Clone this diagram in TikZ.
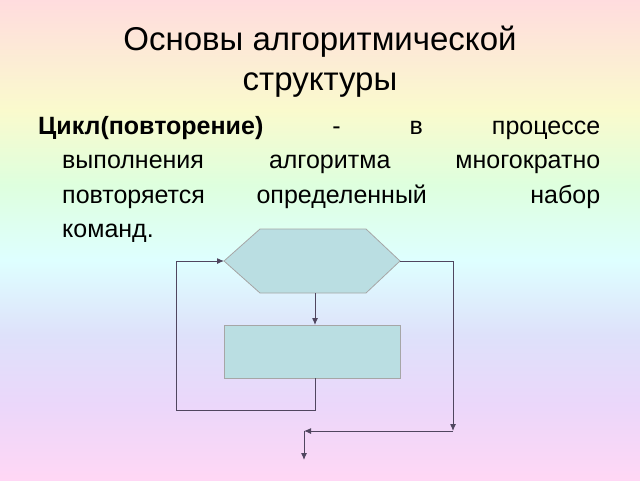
\documentclass[tikz,border=0pt]{standalone}
\usepackage{fontspec}
\setmainfont{Liberation Sans}
\usetikzlibrary{arrows.meta}
\definecolor{boxfill}{RGB}{186,222,226}
\definecolor{linec}{RGB}{80,70,95}
\begin{document}
\begin{tikzpicture}[x=1pt,y=-1pt,
  shapebox/.style={draw=gray!70, fill=boxfill, line width=0.8pt},
  conn/.style={draw=linec, line width=1pt},
  arr/.style={conn,-{Latex[length=7pt,width=6pt]}}]
\useasboundingbox (0,0) rectangle (640,480);
\shade[top color={rgb,255:red,255;green,220;blue,222}, bottom color={rgb,255:red,250;green,250;blue,205}] (0,0) rectangle (640,110);
\shade[top color={rgb,255:red,250;green,250;blue,205}, bottom color={rgb,255:red,222;green,255;blue,222}] (0,110) rectangle (640,185);
\shade[top color={rgb,255:red,222;green,255;blue,222}, bottom color={rgb,255:red,222;green,255;blue,255}] (0,185) rectangle (640,260);
\shade[top color={rgb,255:red,222;green,255;blue,255}, bottom color={rgb,255:red,222;green,225;blue,250}] (0,260) rectangle (640,335);
\shade[top color={rgb,255:red,222;green,225;blue,250}, bottom color={rgb,255:red,235;green,215;blue,250}] (0,335) rectangle (640,405);
\shade[top color={rgb,255:red,235;green,215;blue,250}, bottom color={rgb,255:red,255;green,215;blue,245}] (0,405) rectangle (640,480);

\node[align=center, font=\fontsize{33}{40}\selectfont] (title) at (320,62) {Основы алгоритмической\\структуры};
\node[anchor=north west, inner sep=0pt] (body) at (38,116) {\parbox{562pt}{\fontsize{25}{34.5}\selectfont\hangindent=24pt\hangafter=1 \textbf{Цикл(повторение)} - в процессе\linebreak выполнения алгоритма многократно\linebreak повторяется определенный \ набор\linebreak команд.}};

\draw[shapebox] (224,261) -- (260,229) -- (366,229) -- (400,261) -- (366,293) -- (260,293) -- cycle;
\coordinate (hexL) at (224,261);
\coordinate (hexR) at (400,261);
\coordinate (hexB) at (315,293);
\node[shapebox, minimum width=176pt, minimum height=53pt, inner sep=0pt] (rect) at (312,351.5) {};
\coordinate (c1) at (315,410);
\coordinate (c2) at (176,410);
\coordinate (c3) at (176,261);
\coordinate (c4) at (453,261);
\coordinate (c5) at (453,431);
\coordinate (c6) at (304,431);
\coordinate (c7) at (304,460);
\draw[arr] (hexB) -- (315,325);
\draw[arr] (315,378) -- (c1) -- (c2) -- (c3) -- (hexL);
\draw[arr] (hexR) -- (c4) -- (c5);
\draw[arr] (c5) -- (c6);
\draw[arr] (c6) -- (c7);
\end{tikzpicture}
\end{document}
